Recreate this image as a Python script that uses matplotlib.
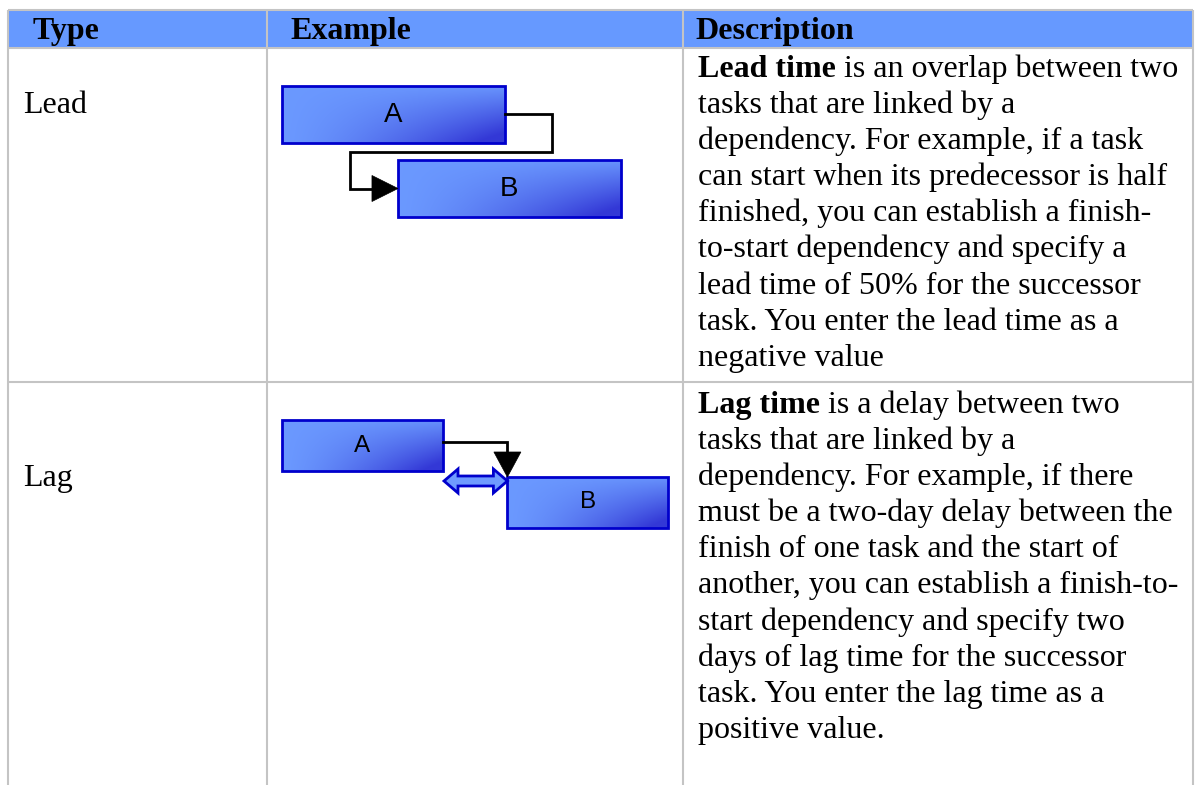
import numpy as np
import matplotlib
matplotlib.use("Agg")
import matplotlib.pyplot as plt
from matplotlib.patches import Rectangle, Polygon

# ---------------- data ----------------
headers = ["Type", "Example", "Description"]
types = ["Lead", "Lag"]

lead_tasks = ["A", "B"]
lead_start = [0.0, 5.2]
lead_dur = [10.0, 10.0]

lag_tasks = ["A", "B"]
lag_start = [0.0, 7.0]
lag_dur = [5.0, 5.0]

lead_bold = "Lead time"
lead_lines = [
    " is an overlap between two",
    "tasks that are linked by a",
    "dependency. For example, if a task",
    "can start when its predecessor is half",
    "finished, you can establish a finish-",
    "to-start dependency and specify a",
    "lead time of 50% for the successor",
    "task. You enter the lead time as a",
    "negative value",
]
lag_bold = "Lag time"
lag_lines = [
    " is a delay between two",
    "tasks that are linked by a",
    "dependency. For example, if there",
    "must be a two-day delay between the",
    "finish of one task and the start of",
    "another, you can establish a finish-to-",
    "start dependency and specify two",
    "days of lag time for the successor",
    "task. You enter the lag time as a",
    "positive value.",
]

# ---------------- figure ----------------
W, H = 1195, 785
fig = plt.figure(figsize=(W / 100, H / 100), dpi=100)
fig.patch.set_facecolor("white")

base = fig.add_axes([0, 0, 1, 1])
base.set_xlim(0, W)
base.set_ylim(H, 0)
base.axis("off")

SERIF = ["Liberation Serif", "DejaVu Serif"]
SANS = ["Liberation Sans", "DejaVu Sans"]
FS = 23
GRID = "#c4c4c4"
HEAD = "#6699ff"
EDGE = "#0000cc"

# table layout (pixels)
xL, xC1, xC2, xR = 8, 267, 683, 1193
yT, yH, yRow = 10, 48, 382

base.add_patch(Rectangle((xL, yT), xR - xL, yH - yT, facecolor=HEAD, edgecolor="none"))
for x in (xL, xC1, xC2, xR):
    base.plot([x, x], [yT, H], color=GRID, lw=1.5, solid_capstyle="butt")
for y in (yT, yH, yRow):
    base.plot([xL, xR], [y, y], color=GRID, lw=1.5, solid_capstyle="butt")

# header
for txt, x in zip(headers, (33, 290, 695)):
    base.text(x, 39, txt, fontsize=FS, fontweight="bold", family=SERIF, va="baseline", ha="left")

# type labels
for txt, yb in zip(types, (113, 486)):
    base.text(23, yb, txt, fontsize=FS, family=SERIF, va="baseline", ha="left")

# descriptions
renderer = fig.canvas.get_renderer()


def draw_desc(bold, lines, y0, step=36.1, x0=698):
    for i, line in enumerate(lines):
        yb = y0 + i * step
        if i == 0:
            t = base.text(x0, yb, bold, fontsize=FS, fontweight="bold", family=SERIF,
                          va="baseline", ha="left")
            xw = t.get_window_extent(renderer).width
            base.text(x0 + xw, yb, line, fontsize=FS, family=SERIF, va="baseline", ha="left")
        else:
            base.text(x0, yb, line, fontsize=FS, family=SERIF, va="baseline", ha="left")


draw_desc(lead_bold, lead_lines, 77)
draw_desc(lag_bold, lag_lines, 413)


# ---------------- example diagrams ----------------
def px_axes(left, top, right, bottom):
    a = fig.add_axes([left / W, 1 - bottom / H, (right - left) / W, (bottom - top) / H])
    a.patch.set_visible(False)
    a.axis("off")
    return a


light = np.array([0.42, 0.60, 1.0])
dark = np.array([0.20, 0.22, 0.84])


def gradient(n=60, m=200):
    u = np.linspace(0, 1, m)[None, :]
    v = np.linspace(0, 1, n)[:, None]
    f = np.clip((u ** 1.4) * (v ** 1.0) * 1.15 + 0.05 * u, 0, 1)
    return light[None, None, :] * (1 - f[..., None]) + dark[None, None, :] * f[..., None]


def draw_bars(ax, names, starts, durs, h, fsz, xlim):
    rows = np.arange(len(names))
    bars = ax.barh(rows, durs, left=starts, height=h, facecolor="none",
                   edgecolor=EDGE, linewidth=2.0, zorder=3)
    grad = gradient()
    for r, b, s, d in zip(rows, bars, starts, durs):
        b.set_clip_on(False)
        im = ax.imshow(grad, extent=(s, s + d, r + h / 2, r - h / 2), origin="upper",
                       aspect="auto", zorder=1, interpolation="bilinear")
        im.set_clip_path(b)
        ax.text(s + d / 2, r, names[r], ha="center", va="center", fontsize=fsz,
                family=SANS, color="black", zorder=4)
    ax.set_xlim(*xlim)
    ax.set_ylim(len(names) - 0.5, -0.5)
    return rows


def to_px(ax, x, y):
    d = ax.transData.transform((x, y))
    return base.transData.inverted().transform(d)


# Lead example
ax_lead = px_axes(282, 77.5, 282 + 15.2 * 22.3, 225.5)
h_lead = 0.77
draw_bars(ax_lead, lead_tasks, lead_start, lead_dur, h_lead, 20, (0, 15.2))

# Lag example
ax_lag = px_axes(282, 417, 282 + 12 * 32.2, 531)
h_lag = 0.895
draw_bars(ax_lag, lag_tasks, lag_start, lag_dur, h_lag, 17.5, (0, 12))

# overlay for connectors
ov = fig.add_axes([0, 0, 1, 1])
ov.set_xlim(0, W)
ov.set_ylim(H, 0)
ov.patch.set_visible(False)
ov.axis("off")

LW = 2.0
# Lead connector
aEx, aEy = to_px(ax_lead, lead_start[0] + lead_dur[0], 0)
aEy -= 0.5
bSx, bSy = to_px(ax_lead, lead_start[1], 1)
_, midy = to_px(ax_lead, 0, 0.5)
hl = 26
ov.plot([aEx, aEx + 47, aEx + 47, bSx - 48, bSx - 48, bSx - hl],
        [aEy, aEy, midy, midy, bSy, bSy], color="black", lw=LW, solid_joinstyle="miter")
ov.add_patch(Polygon([[bSx, bSy], [bSx - hl, bSy - 13], [bSx - hl, bSy + 13]],
                     closed=True, facecolor="black", edgecolor="black", lw=0.5))

# Lag connector
aEx, aEy = to_px(ax_lag, lag_start[0] + lag_dur[0], 0)
aEy -= 4
bSx, bTy = to_px(ax_lag, lag_start[1], 1 - h_lag / 2)
tl = 25
ov.plot([aEx, bSx, bSx], [aEy, aEy, bTy - tl], color="black", lw=LW, solid_joinstyle="miter")
ov.add_patch(Polygon([[bSx, bTy], [bSx - 13.5, bTy - tl], [bSx + 13.5, bTy - tl]],
                     closed=True, facecolor="black", edgecolor="black", lw=0.5))

# lag double arrow
_, yc = to_px(ax_lag, 0, 1 - h_lag / 2)
yc += 4
x0, x1 = aEx + 1, bSx
hw, sw, hlen = 12, 5, 14
pts = [[x0, yc], [x0 + hlen, yc - hw], [x0 + hlen, yc - sw], [x1 - hlen, yc - sw],
       [x1 - hlen, yc - hw], [x1, yc], [x1 - hlen, yc + hw], [x1 - hlen, yc + sw],
       [x0 + hlen, yc + sw], [x0 + hlen, yc + hw]]
ov.add_patch(Polygon(pts, closed=True, facecolor="#6f9bff", edgecolor=EDGE, lw=2.0,
                     joinstyle="miter"))

fig.savefig("out.png", dpi=100, facecolor="white")
